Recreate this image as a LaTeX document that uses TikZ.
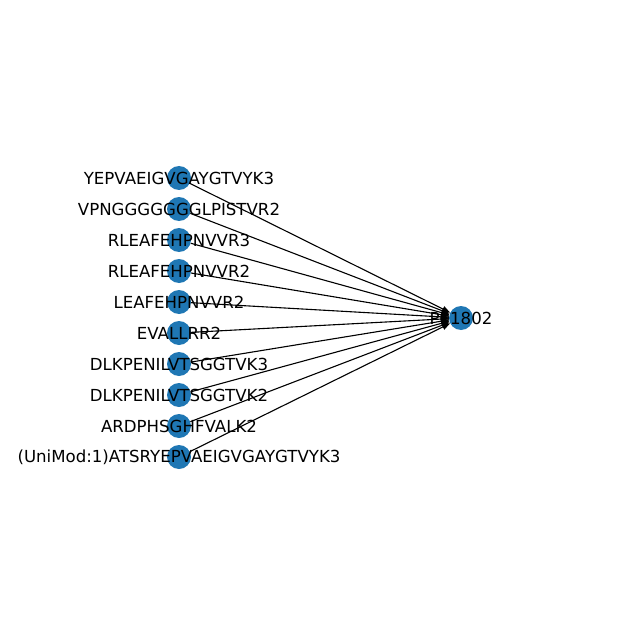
\documentclass[tikz,border=0pt]{standalone}
\usepackage{fontspec}
\setmainfont{DejaVu Sans}
\usetikzlibrary{arrows.meta}
\definecolor{nodeblue}{HTML}{1F77B4}
\begin{document}
\begin{tikzpicture}[x=1bp,y=-1bp,
  dot/.style={circle,fill=nodeblue,draw=none,minimum size=24bp,inner sep=0pt},
  lbl/.style={inner sep=0pt,font=\fontsize{16.6bp}{20bp}\selectfont},
  edge/.style={draw=black,line width=1.1bp,-{Stealth[length=8bp,width=6bp,inset=0pt]}}]
\useasboundingbox (0,0) rectangle (640,636);
\node[dot] (t) at (461,318) {};
\foreach \i/\y in {1/178,2/209,3/240,4/271,5/302,6/333,7/364,8/395,9/426,10/457}{
  \node[dot] (n\i) at (179,\y) {};
}
\foreach \i in {1,...,10}{ \draw[edge] (n\i) -- (t); }
\node[lbl] (ln1) at (n1) {YEPVAEIGVGAYGTVYK3};
\node[lbl] (ln2) at (n2) {VPNGGGGGGGLPISTVR2};
\node[lbl] (ln3) at (n3) {RLEAFEHPNVVR3};
\node[lbl] (ln4) at (n4) {RLEAFEHPNVVR2};
\node[lbl] (ln5) at (n5) {LEAFEHPNVVR2};
\node[lbl] (ln6) at (n6) {EVALLRR2};
\node[lbl] (ln7) at (n7) {DLKPENILVTSGGTVK3};
\node[lbl] (ln8) at (n8) {DLKPENILVTSGGTVK2};
\node[lbl] (ln9) at (n9) {ARDPHSGHFVALK2};
\node[lbl] (ln10) at (n10) {(UniMod:1)ATSRYEPVAEIGVGAYGTVYK3};
\node[lbl] (lt) at (t) {P01802};
\end{tikzpicture}
\end{document}
